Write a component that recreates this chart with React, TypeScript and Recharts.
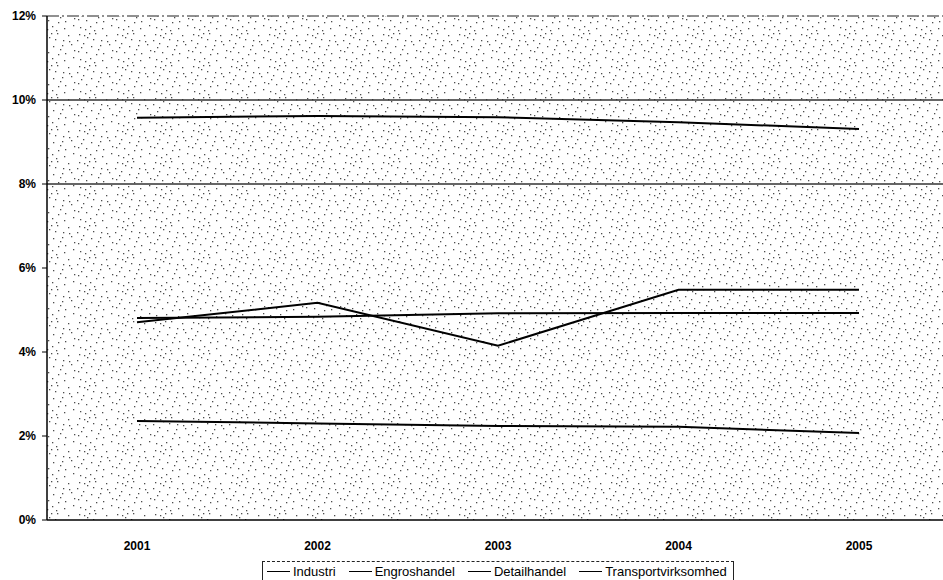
import { LineChart, Line, XAxis, YAxis, CartesianGrid, ReferenceLine, Legend } from 'recharts';

const years = ['2001', '2002', '2003', '2004', '2005'];
const industri = [9.58, 9.62, 9.59, 9.47, 9.31];
const engroshandel = [4.71, 5.17, 4.15, 5.48, 5.48];
const detailhandel = [4.81, 4.84, 4.92, 4.93, 4.93];
const transport = [2.36, 2.3, 2.24, 2.22, 2.07];
const yTicks = [0, 2, 4, 6, 8, 10, 12];
const seriesNames = ['Industri', 'Engroshandel', 'Detailhandel', 'Transportvirksomhed'];

const data = years.map((year, i) => ({
  year,
  industri: industri[i],
  engroshandel: engroshandel[i],
  detailhandel: detailhandel[i],
  transport: transport[i],
}));

// scanned-paper speckle, purely decorative
const speckle = [
  [3, 2], [11, 5], [19, 1], [25, 8], [7, 11], [15, 14], [22, 17], [2, 19], [33, 12],
  [27, 21], [10, 20], [17, 7], [5, 15], [13, 1], [24, 13], [1, 8], [20, 22], [8, 3], [35, 25],
  [30, 3], [36, 18], [14, 26], [26, 28], [4, 27], [31, 9], [18, 30], [9, 29],
];

const font = 'Arial, "Liberation Sans", Helvetica, sans-serif';

const XTick = ({ x, y, payload }: any) => (
  <text x={x} y={y + 22} textAnchor="middle" fontSize={12} fontWeight={700} fontFamily={font} fill="#000">
    {payload.value}
  </text>
);

const YTick = ({ x, y, payload }: any) => (
  <text x={x - 4} y={y + 4} textAnchor="end" fontSize={12} fontWeight={700} fontFamily={font} fill="#000">
    {payload.value}%
  </text>
);

const LegendBox = () => (
  <div
    style={{
      display: 'flex',
      alignItems: 'center',
      height: 19,
      borderTop: '1px dashed #222',
      borderLeft: '1px solid #222',
      borderRight: '1px solid #222',
      fontFamily: font,
      fontSize: 13,
      color: '#000',
      paddingLeft: 4,
      boxSizing: 'border-box',
    }}
  >
    {seriesNames.map((name) => (
      <div key={name} style={{ display: 'flex', alignItems: 'center', marginRight: 13 }}>
        <span style={{ display: 'inline-block', width: 23, height: 0, borderTop: '1.5px solid #000', marginRight: 3 }} />
        <span>{name}</span>
      </div>
    ))}
  </div>
);

export default function App() {
  return (
    <div style={{ position: 'absolute', left: 0, top: 0, width: 943, height: 580, overflow: 'hidden', background: '#fff' }}>
      <LineChart width={950} height={580} data={data} margin={{ top: 16, right: 1, bottom: 30, left: 0 }}>
        <defs>
          <pattern id="stipple" width={38} height={32} patternUnits="userSpaceOnUse">
            {speckle.map(([px, py], i) => (
              <rect key={i} x={px} y={py} width={1.3} height={1.3} fill="#111" />
            ))}
          </pattern>
        </defs>
        <CartesianGrid horizontal={false} vertical={false} fill="url(#stipple)" fillOpacity={0.75} />
        <XAxis
          dataKey="year"
          height={30}
          padding={{ left: 90, right: 90 }}
          tick={<XTick />}
          tickLine={false}
          axisLine={{ stroke: '#000', strokeWidth: 1.5 }}
        />
        <YAxis
          width={47}
          domain={[0, 12]}
          ticks={yTicks}
          interval={0}
          tick={<YTick />}
          tickSize={5}
          tickLine={{ stroke: '#000' }}
          axisLine={{ stroke: '#000', strokeWidth: 1.5 }}
        />
        <ReferenceLine y={12} stroke="#222" strokeWidth={1.2} strokeDasharray="12 3 2 3" />
        <ReferenceLine y={10} stroke="#333" strokeWidth={1.5} />
        <ReferenceLine y={8} stroke="#333" strokeWidth={1.5} />
        <Line dataKey="industri" name="Industri" stroke="#000" strokeWidth={2} dot={false} isAnimationActive={false} />
        <Line dataKey="engroshandel" name="Engroshandel" stroke="#000" strokeWidth={2} dot={false} isAnimationActive={false} />
        <Line dataKey="detailhandel" name="Detailhandel" stroke="#000" strokeWidth={2} dot={false} isAnimationActive={false} />
        <Line dataKey="transport" name="Transportvirksomhed" stroke="#000" strokeWidth={2} dot={false} isAnimationActive={false} />
        <Legend
          layout="horizontal"
          verticalAlign="middle"
          align="center"
          wrapperStyle={{ left: 262, top: 561, width: 472, height: 19 }}
          content={() => <LegendBox />}
        />
      </LineChart>
    </div>
  );
}
